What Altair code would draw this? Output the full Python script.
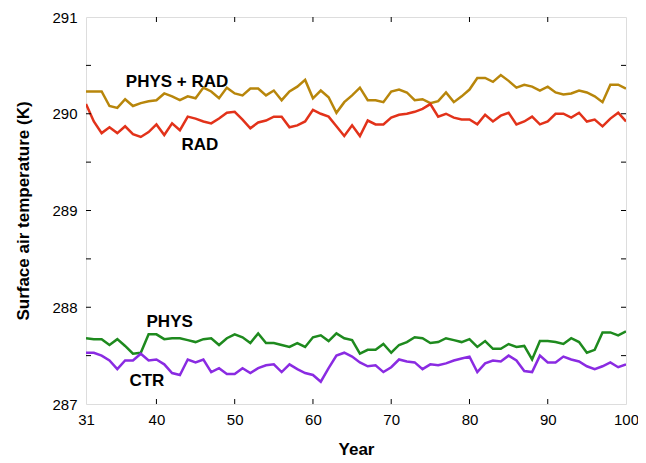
import altair as alt
import pandas as pd

years = list(range(31, 101))

phys_rad = [290.23, 290.23, 290.23, 290.08, 290.06, 290.15, 290.08, 290.11, 290.13, 290.14,
            290.21, 290.18, 290.14, 290.18, 290.16, 290.27, 290.23, 290.16, 290.27, 290.21,
            290.19, 290.26, 290.26, 290.19, 290.24, 290.14, 290.23, 290.28, 290.35, 290.16,
            290.24, 290.17, 290.01, 290.12, 290.19, 290.27, 290.14, 290.14, 290.12, 290.23,
            290.25, 290.22, 290.14, 290.15, 290.11, 290.13, 290.22, 290.12, 290.18, 290.25,
            290.37, 290.37, 290.33, 290.40, 290.34, 290.27, 290.30, 290.28, 290.24, 290.28,
            290.22, 290.20, 290.21, 290.24, 290.22, 290.18, 290.12, 290.30, 290.30, 290.26]

rad = [290.10, 289.92, 289.80, 289.86, 289.80, 289.87, 289.79, 289.76, 289.81, 289.89,
       289.78, 289.90, 289.83, 289.97, 289.95, 289.92, 289.90, 289.95, 290.01, 290.02,
       289.94, 289.85, 289.91, 289.93, 289.97, 289.97, 289.86, 289.88, 289.92, 290.04,
       290.00, 289.97, 289.87, 289.77, 289.88, 289.77, 289.93, 289.89, 289.89, 289.96,
       289.99, 290.00, 290.02, 290.05, 290.10, 289.97, 290.00, 289.96, 289.94, 289.94,
       289.89, 289.99, 289.92, 289.98, 290.01, 289.89, 289.92, 289.97, 289.89, 289.92,
       290.00, 290.00, 289.96, 290.01, 289.92, 289.94, 289.87, 289.95, 290.01, 289.92]

phys = [287.68, 287.67, 287.67, 287.61, 287.67, 287.60, 287.52, 287.53, 287.72, 287.72,
        287.67, 287.68, 287.68, 287.66, 287.64, 287.67, 287.68, 287.61, 287.68, 287.72,
        287.69, 287.63, 287.73, 287.63, 287.63, 287.61, 287.59, 287.63, 287.59, 287.69,
        287.71, 287.65, 287.73, 287.68, 287.66, 287.52, 287.56, 287.56, 287.62, 287.53,
        287.61, 287.64, 287.69, 287.68, 287.63, 287.64, 287.68, 287.66, 287.64, 287.67,
        287.59, 287.65, 287.57, 287.57, 287.62, 287.59, 287.60, 287.46, 287.65, 287.65,
        287.64, 287.62, 287.68, 287.64, 287.53, 287.56, 287.74, 287.74, 287.71, 287.75]

ctr = [287.53, 287.53, 287.50, 287.45, 287.36, 287.45, 287.45, 287.52, 287.45, 287.46,
       287.41, 287.32, 287.30, 287.46, 287.43, 287.46, 287.33, 287.37, 287.31, 287.31,
       287.37, 287.32, 287.37, 287.40, 287.41, 287.33, 287.41, 287.36, 287.32, 287.30,
       287.23, 287.37, 287.50, 287.53, 287.49, 287.43, 287.39, 287.40, 287.33, 287.38,
       287.46, 287.44, 287.43, 287.36, 287.41, 287.40, 287.42, 287.45, 287.47, 287.49,
       287.33, 287.42, 287.45, 287.44, 287.50, 287.45, 287.34, 287.33, 287.50, 287.43,
       287.43, 287.49, 287.46, 287.44, 287.39, 287.36, 287.39, 287.43, 287.38, 287.41]

series_names = ["PHYS + RAD", "RAD", "PHYS", "CTR"]
series_colors = ["#B8860B", "#E2321A", "#1E8A1E", "#8A2BE2"]
label_years = [42.64, 45.55, 41.69, 38.78]
label_values = [290.331, 289.676, 287.849, 287.236]

x_tick_labels = [31, 40, 50, 60, 70, 80, 90, 100]
y_tick_labels = [287, 288, 289, 290, 291]
x_inner_ticks = [40, 50, 60, 70, 80, 90]
y_inner_ticks = [287.5, 288, 288.5, 289, 289.5, 290, 290.5]

rows = []
for name, vals in zip(series_names, [phys_rad, rad, phys, ctr]):
    for yr, v in zip(years, vals):
        rows.append({"Year": yr, "Temp": v, "Series": name})
df = pd.DataFrame(rows)
labels_df = pd.DataFrame({"Year": label_years, "Temp": label_values, "Series": series_names})
xt_df = pd.DataFrame({"Year": x_inner_ticks})
yt_df = pd.DataFrame({"Temp": y_inner_ticks})

W, H = 540, 387
FONT = "Liberation Sans"

xscale = alt.Scale(domain=[31, 100], nice=False, zero=False)
yscale = alt.Scale(domain=[287, 291], nice=False, zero=False)

xaxis = alt.Axis(values=x_tick_labels, tickSize=0, domain=False, grid=False,
                 labelFontSize=15, labelPadding=8, labelFlush=False, labelOverlap=False,
                 labelColor="black", labelFont=FONT,
                 title="Year", titleFontSize=17, titleFontWeight="bold", titleFont=FONT,
                 titleColor="black", titlePadding=14, format="d")
yaxis = alt.Axis(values=y_tick_labels, tickSize=0, domain=False, grid=False,
                 labelFontSize=15, labelPadding=9, labelFlush=False, labelOverlap=False,
                 labelColor="black", labelFont=FONT,
                 title="Surface air temperature (K)", titleFontSize=17, titleFontWeight="bold",
                 titleFont=FONT, titleColor="black", titlePadding=19, format="d")

X = alt.X("Year:Q", scale=xscale, axis=xaxis)
Y = alt.Y("Temp:Q", scale=yscale, axis=yaxis)

lines = alt.Chart(df).mark_line(strokeWidth=2.5, clip=True).encode(
    x=X, y=Y,
    color=alt.Color("Series:N", scale=alt.Scale(domain=series_names, range=series_colors), legend=None),
    detail="Series:N",
)

texts = alt.Chart(labels_df).mark_text(fontSize=17, fontWeight="bold", font=FONT, color="black",
                                       align="center", baseline="middle").encode(
    x=X, y=Y, text="Series:N"
)

tick_bottom = alt.Chart(xt_df).mark_rule(color="black", strokeWidth=1).encode(
    x=X, y=alt.value(H), y2=alt.value(H - 5))
tick_top = alt.Chart(xt_df).mark_rule(color="black", strokeWidth=1).encode(
    x=X, y=alt.value(0), y2=alt.value(5))
tick_left = alt.Chart(yt_df).mark_rule(color="black", strokeWidth=1).encode(
    y=Y, x=alt.value(0), x2=alt.value(5))
tick_right = alt.Chart(yt_df).mark_rule(color="black", strokeWidth=1).encode(
    y=Y, x=alt.value(W - 5), x2=alt.value(W))

chart = alt.layer(lines, tick_bottom, tick_top, tick_left, tick_right, texts).properties(
    width=W, height=H,
    autosize=alt.AutoSizeParams(type="none"),
    padding={"left": 78, "top": 9, "right": 12, "bottom": 57},
).configure_view(stroke="black", strokeWidth=2).configure(background="white")

chart.save("out.html", embed_options={"renderer": "svg", "actions": False})
